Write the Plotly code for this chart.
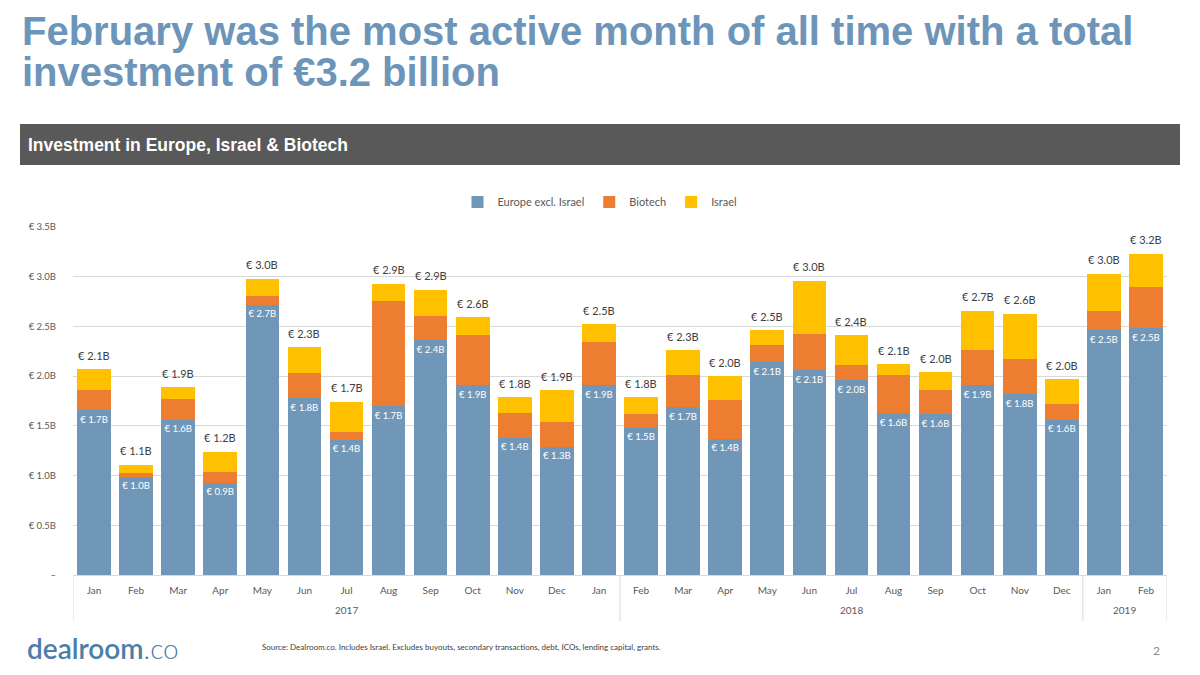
import plotly.graph_objects as go

# ---------------- data ----------------
months = ["Jan", "Feb", "Mar", "Apr", "May", "Jun", "Jul", "Aug", "Sep", "Oct", "Nov", "Dec",
          "Jan", "Feb", "Mar", "Apr", "May", "Jun", "Jul", "Aug", "Sep", "Oct", "Nov", "Dec",
          "Jan", "Feb"]
period_ids = ["2017-01", "2017-02", "2017-03", "2017-04", "2017-05", "2017-06", "2017-07",
              "2017-08", "2017-09", "2017-10", "2017-11", "2017-12",
              "2018-01", "2018-02", "2018-03", "2018-04", "2018-05", "2018-06", "2018-07",
              "2018-08", "2018-09", "2018-10", "2018-11", "2018-12",
              "2019-01", "2019-02"]
# year groups as drawn on the original axis
year_groups = ["2017", "2018", "2019"]
year_group_sizes = [13, 11, 2]

europe = [1.66, 0.99, 1.56, 0.93, 2.72, 1.78, 1.36, 1.70, 2.36, 1.91, 1.38, 1.29,
          1.91, 1.48, 1.69, 1.37, 2.14, 2.06, 1.96, 1.63, 1.62, 1.91, 1.82, 1.56,
          2.46, 2.48]
biotech = [0.20, 0.04, 0.21, 0.11, 0.09, 0.25, 0.08, 1.06, 0.24, 0.50, 0.25, 0.25,
           0.43, 0.14, 0.32, 0.39, 0.17, 0.36, 0.15, 0.38, 0.24, 0.35, 0.35, 0.16,
           0.20, 0.42]
israel = [0.21, 0.08, 0.12, 0.20, 0.17, 0.26, 0.30, 0.17, 0.27, 0.18, 0.16, 0.32,
          0.18, 0.17, 0.25, 0.24, 0.15, 0.54, 0.30, 0.11, 0.18, 0.40, 0.46, 0.25,
          0.37, 0.33]

y_tickvals = [0, 0.5, 1.0, 1.5, 2.0, 2.5, 3.0, 3.5]
y_ticktext = ["–", "€ 0.5B", "€ 1.0B", "€ 1.5B", "€ 2.0B", "€ 2.5B", "€ 3.0B", "€ 3.5B"]

series_names = ["Europe excl. Israel", "Biotech", "Israel"]
series_colors = ["#7097b8", "#ed7d31", "#ffc000"]

totals = [e + b + i for e, b, i in zip(europe, biotech, israel)]

# ---------------- layout helpers ----------------
W, H = 1200, 675
OFF = 8  # page body margin offset
PLOT_L, PLOT_R, PLOT_T, PLOT_B = 73, 1167, 227, 575  # target positions on screen
L = PLOT_L - OFF
T = PLOT_T - OFF
R = W - (PLOT_R - OFF)
B = H - (PLOT_B - OFF)
PW, PH = W - L - R, H - T - B


def px(x):
    return (x - OFF - L) / PW


def py(y):
    return (H - B - (y - OFF)) / PH


FONT = "Lato, 'Open Sans', sans-serif"
GRAY = "#595959"

fig = go.Figure()
for name, vals, col in zip(series_names, [europe, biotech, israel], series_colors):
    kw = {}
    if name == series_names[0]:
        kw = dict(text=[f"€ {v:.1f}B" for v in vals], textposition="inside",
                  insidetextanchor="end", textangle=0,
                  textfont=dict(color="white", size=10, family=FONT))
    fig.add_trace(go.Bar(x=period_ids, y=vals, name=name,
                         marker=dict(color=col, line=dict(width=0)),
                         hoverinfo="skip", **kw))

annotations = []
for pid, t in zip(period_ids, totals):
    annotations.append(dict(x=pid, y=t, xref="x", yref="y", text=f"€ {t:.1f}B",
                            showarrow=False, yanchor="middle", yshift=14,
                            font=dict(color="#404040", size=11, family=FONT)))

fig.update_layout(
    width=W, height=H, autosize=False,
    margin=dict(l=L, r=R, t=T, b=B),
    paper_bgcolor="white", plot_bgcolor="white",
    barmode="stack", bargap=0.2,
    uniformtext=dict(minsize=9, mode="show"),
    font=dict(family=FONT, color=GRAY, size=10),
    legend=dict(orientation="h", x=px(600), xanchor="center", y=py(202), yanchor="middle",
                font=dict(size=11, color=GRAY, family=FONT), traceorder="normal",
                itemwidth=30, bgcolor="rgba(0,0,0,0)"),
    xaxis=dict(type="category", tickvals=period_ids, ticktext=months, showgrid=False,
               showline=True, linecolor="#d9d9d9", linewidth=1, ticks="",
               tickfont=dict(size=10, color=GRAY, family=FONT), ticklabelstandoff=6,
               range=[-0.5, len(period_ids) - 0.5]),
    yaxis=dict(range=[0, 3.5], tickvals=y_tickvals, ticktext=y_ticktext, showgrid=True,
               gridcolor="#d9d9d9", gridwidth=1, zeroline=False, showline=False, ticks="",
               tickfont=dict(size=9.5, color=GRAY, family=FONT), ticklabelstandoff=16),
)

# year group labels and dividers
start = 0
shapes = []
bounds = [-0.5]
for label, n in zip(year_groups, year_group_sizes):
    center = start + (n - 1) / 2
    annotations.append(dict(x=center, xref="x", y=py(610), yref="paper", text=label,
                            showarrow=False, yanchor="middle",
                            font=dict(size=10, color=GRAY, family=FONT)))
    start += n
    bounds.append(start - 0.5)
for b in bounds:
    shapes.append(dict(type="line", xref="x", yref="paper", x0=b, x1=b, y0=0, y1=py(621),
                       line=dict(color="#d9d9d9", width=1)))

# banner
shapes.append(dict(type="rect", xref="paper", yref="paper", x0=px(20), x1=px(1180),
                   y0=py(165), y1=py(124), fillcolor="#595959", line=dict(width=0),
                   layer="below"))

TITLE_FONT = dict(family="'Liberation Sans', Arial, sans-serif", size=40, color="#6d95b9")
annotations += [
    dict(x=px(20), y=py(31), xref="paper", yref="paper", xanchor="left", yanchor="middle",
         text="<b>February was the most active month of all time with a total</b>",
         showarrow=False, font=TITLE_FONT),
    dict(x=px(20), y=py(72), xref="paper", yref="paper", xanchor="left", yanchor="middle",
         text="<b>investment of €3.2 billion</b>", showarrow=False, font=TITLE_FONT),
    dict(x=px(26), y=py(145), xref="paper", yref="paper", xanchor="left", yanchor="middle",
         text="<b>Investment in Europe, Israel &amp; Biotech</b>", showarrow=False,
         font=dict(family="'Liberation Sans', Arial, sans-serif", size=17.5, color="white")),
    dict(x=px(25), y=py(648), xref="paper", yref="paper", xanchor="left", yanchor="middle",
         text="<span style='font-weight:600'>dealroom</span><span style='font-weight:300'>.co</span>",
         showarrow=False, font=dict(family="Lato, sans-serif", size=28, color="#4d7eaa")),
    dict(x=px(260), y=py(647), xref="paper", yref="paper", xanchor="left", yanchor="middle",
         text="Source: Dealroom.co. Includes Israel. Excludes buyouts, secondary transactions, debt, ICOs, lending capital, grants.",
         showarrow=False, font=dict(family=FONT, size=8, color="#404040")),
    dict(x=px(1156), y=py(650), xref="paper", yref="paper", xanchor="center", yanchor="middle",
         text="2", showarrow=False, font=dict(family=FONT, size=12, color="#8c8c8c")),
]
fig.update_layout(shapes=shapes, annotations=annotations)

fig.write_html("out.html")
